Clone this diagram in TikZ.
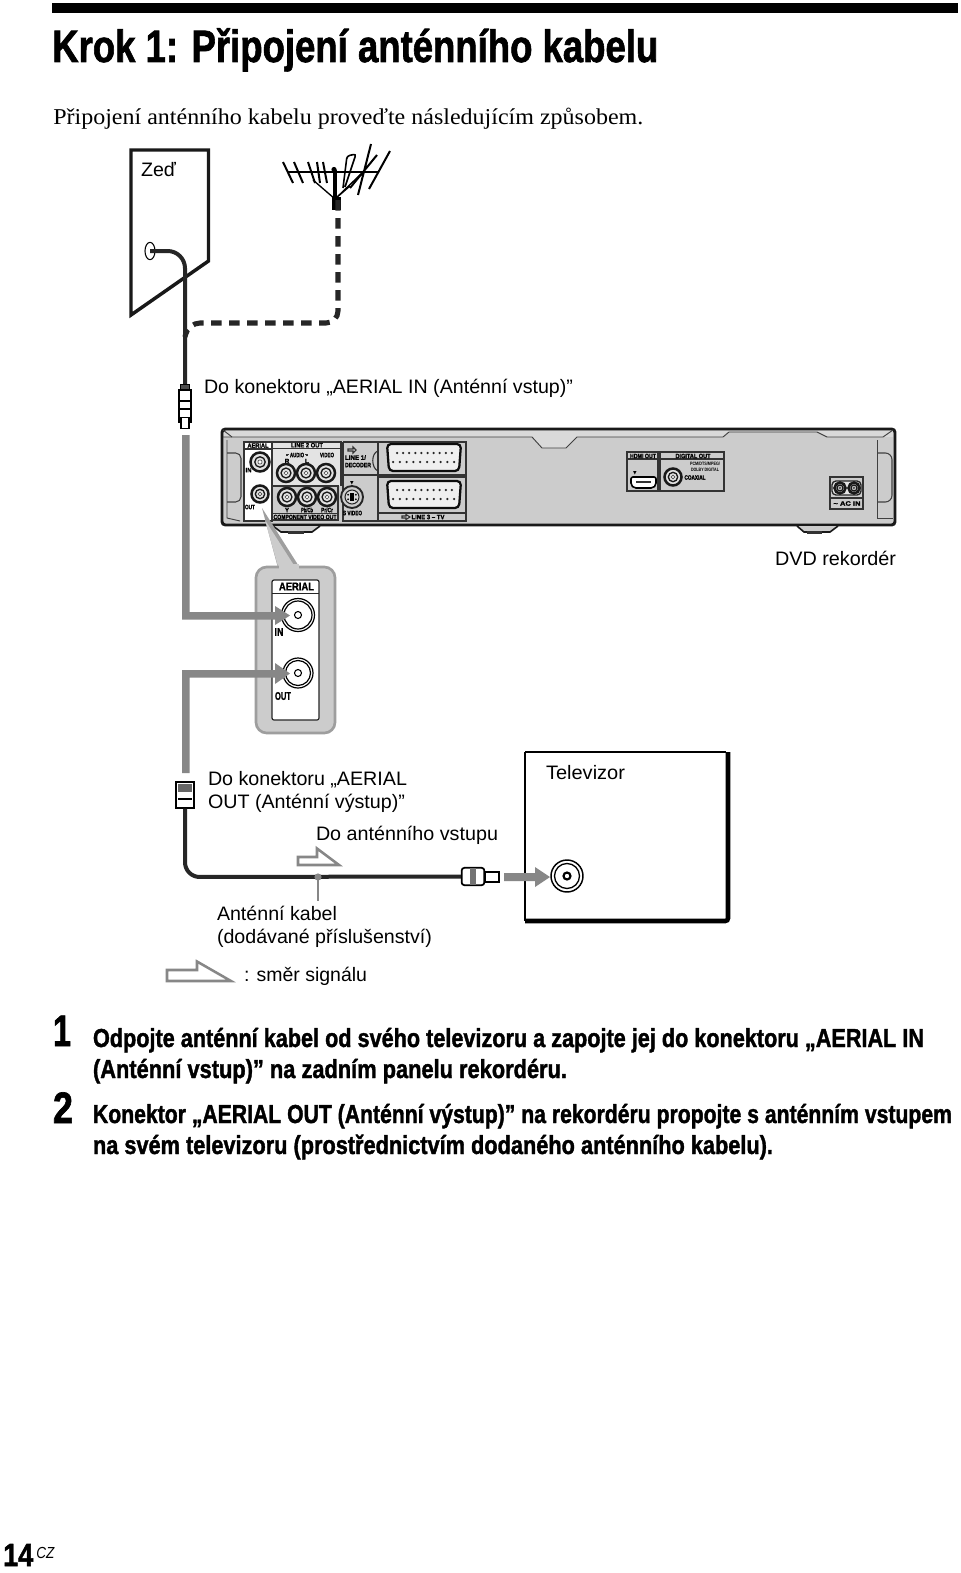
\documentclass[tikz,border=0pt]{standalone}
\usepackage{graphicx}
\usepackage{fontspec}
\usetikzlibrary{shapes.geometric,calc}
\setmainfont{Liberation Sans}
\newfontfamily\serifface{Liberation Serif}
\newfontfamily\heavyface{Liberation Sans}[BoldFeatures={FakeBold=1.6}]
\newfontfamily\symface{DejaVu Sans}
\newsavebox\fitbox
% Sets text in the current font and stretches it horizontally to a given width (picture units).
\newcommand\fitx[2]{\sbox\fitbox{#2}\pgfmathsetmacro\fitratio{#1*0.75/\the\wd\fitbox}\scalebox{\fitratio}[1]{\usebox\fitbox}}
\newcommand\jack[3]{%
  \draw[fill=white!55!lightgray,line width=1.9pt,draw=black!90] (#1,#2) circle (#3);
  \draw[line width=1pt,draw=black!90] (#1,#2) circle (#3*0.55);
  \draw[fill=white,line width=0.5pt,draw=black!70] (#1,#2) circle (#3*0.22);}
\newcommand\scart[2]{%
  \draw[fill=white!75!lightgray,line width=1.7pt,rounded corners=3pt,draw=black!95]
    (387,#1) -- (461,#1) -- (459,#2) -- (389,#2) -- cycle;
  \foreach \k in {0,...,9}{
    \fill[black!85] ({397+\k*6.1},#1+9) circle (1.25);
    \fill[black!85] ({393+\k*6.8},#1+18) circle (1.25);}}
\definecolor{bodygrey}{gray}{0.80}
\definecolor{pointer}{gray}{0.53}
\definecolor{calloutedge}{gray}{0.62}
\tikzset{
  txt/.style={anchor=base west,inner sep=0pt,outer sep=0pt,font=\fontsize{14.6}{15}\selectfont},
  stepline/.style={anchor=base west,inner sep=0pt,outer sep=0pt,font=\fontsize{19.5}{20}\selectfont\heavyface\bfseries},
  numeral/.style={anchor=base west,inner sep=0pt,outer sep=0pt,font=\fontsize{33}{33}\selectfont\heavyface\bfseries},
  pl/.style={inner sep=0pt,outer sep=0pt,text=black,font=\fontsize{4.8}{5}\selectfont\heavyface\bfseries},
  inlab/.style={inner sep=0pt,outer sep=0pt,font=\fontsize{8.4}{8}\selectfont\heavyface\bfseries},
  wallline/.style={line width=2.6pt,line join=miter,draw=black!90},
  cable/.style={line width=3pt,draw=black!85,rounded corners=11pt},
  signal/.style={draw=none,fill=pointer},
  hollow/.style={draw=pointer,line width=1.9pt,fill=white,line join=miter},
  thinpanel/.style={draw=black!80,line width=0.8pt},
  plug/.style={draw=black,line width=1.1pt,fill=white}
}
\begin{document}
\begin{tikzpicture}[x=0.75pt,y=-0.75pt]
\useasboundingbox (0,0) rectangle (960,1573);
\fill[white] (0,0) rectangle (960,1573);

% Page head
\fill[black] (52,3) rectangle (958,13);
\node[anchor=base west,inner sep=0pt,font=\fontsize{34}{34}\selectfont\heavyface\bfseries] (title) at (52,62)
  {\fitx{606}{Krok 1: Připojení anténního kabelu}};
\node[anchor=base west,inner sep=0pt,font=\fontsize{17}{18}\selectfont\serifface] (intro) at (53,125)
  {\fitx{590}{Připojení anténního kabelu proveďte následujícím způsobem.}};

% Wall
\draw[wallline] (131,150) -- (208.5,150) -- (208.5,261) -- (131,315) -- cycle;
\node[txt] (zed) at (141,176) {\fitx{35}{Zeď}};
\node[draw=black,line width=0.8pt,ellipse,minimum width=7.5pt,minimum height=13pt,inner sep=0pt,fill=white] (hole) at (150,251) {};

% Antenna
\draw[line width=1.5pt] (287,172) -- (378,172);
\draw[line width=1.5pt]
  (283,162)--(293,183) (294,162)--(303,183) (308,162)--(315,183) (317,162)--(320,183) (323,162)--(327,183)
  (358,195)--(371,144) (369,189)--(390,151) (350,188)--(377,155);
\draw[line width=1pt] (335,199)--(313,180) (335,199)--(362,173) (335,199)--(350,186);
\draw[line width=1.2pt,rounded corners=2pt] (343,188)--(347,156)--(356,154)--(345,187);
\draw[line width=3pt] (335,170)--(335,198);
\fill[black] (334,169.5) circle (2.6);
\coordinate (mast) at (338,200);
\fill[black] (332,197) rectangle (341,210);

% Cables at the wall
\coordinate (wallplug) at (185,385);
\coordinate (dropjoin) at (185,337);
\draw[cable,rounded corners=13pt] (hole.center) -- (185,251) -- (wallplug);
\draw[line width=3.8pt,black!85,dash pattern=on 8pt off 5.5pt,rounded corners=9pt] (mast) -- (338,323) -- (188,323) -- (dropjoin);

% Plug above the grey pointer
\node[plug,minimum width=6.5pt,minimum height=7pt,inner sep=0pt,fill=black!70] (plugtop) at (185,389) {};
\node[plug,minimum width=9pt,minimum height=24pt,inner sep=0pt] (plugbody) at (185,406) {};
\draw[black,line width=1pt] (plugbody.west|-0,401) -- (plugbody.east|-0,401) (plugbody.west|-0,409) -- (plugbody.east|-0,409);
\node[plug,minimum width=6pt,minimum height=8pt,inner sep=0pt] (plugpin) at (185,423) {};

% Recorder rear panel
\draw[line width=2.2pt,draw=black!90,fill=bodygrey,rounded corners=2.5pt] (222,429) -- (895,429) -- (895,525) -- (222,525) -- cycle;
\fill[gray!30!white] (224,431) rectangle (893,437);
\fill[bodygrey] (532,437) -- (542,448) -- (566,448) -- (577,437) -- cycle;
\fill[gray!30!white] (532,437) -- (542,448) -- (566,448) -- (577,437) -- cycle;
\fill[bodygrey] (723,437) -- (729,432) -- (817,432) -- (827,437) -- cycle;
\draw[line width=0.7pt,black!75] (223,437) -- (532,437) -- (542,448) -- (566,448) -- (577,437) -- (723,437) -- (729,432) -- (817,432) -- (827,437) -- (883,437) -- (893,430);
\draw[line width=0.7pt,black!75] (223,430) -- (232,437);
\draw[line width=0.8pt,black!75,fill=bodygrey,rounded corners=4pt] (227,453) -- (241,453) -- (241,502) -- (227,502);
\draw[line width=0.8pt,black!75,rounded corners=5pt] (877,453) -- (892,453) -- (892,502) -- (877,502);
\draw[line width=0.7pt,black!75] (877,440) -- (877,518) -- (893,518);
\draw[line width=0.7pt,black!75] (227,440) -- (227,518) -- (240,521);
\draw[black!90,fill=bodygrey,line width=1.2pt] (273,526) -- (281,532) -- (312,532) -- (320,526);
\fill[black!80] (288,531) rectangle (304,534);
\draw[black!90,fill=bodygrey,line width=1.2pt] (797,526) -- (804,532) -- (830,532) -- (838,526);
\fill[black!80] (807,531) rectangle (822,534);

% Left connector group
\fill[white] (244,442) rectangle (272,521);
\draw[thinpanel] (244,442) rectangle (272,521);
\draw[thinpanel] (244,449) -- (272,449);
\node[pl] (pAerial) at (258,445.5) {\fitx{21}{AERIAL}};
\node[pl] (pIn) at (248.5,470) {\fitx{6}{IN}};
\node[pl] (pOut) at (250,507) {\fitx{10}{OUT}};
\jack{260}{462}{9.5}
\jack{260}{494}{8.5}

\fill[gray!22!white] (272,442) rectangle (341,486);
\draw[thinpanel] (272,442) rectangle (341,448.5);
\draw[thinpanel] (272,448.5) -- (272,486) (341,448.5) -- (341,486);
\node[pl] (pLine2) at (307,445.2) {\fitx{32}{LINE 2 OUT}};
\node[pl] (pAudio) at (297,455) {\fitx{14}{AUDIO}};
\draw[thinpanel] (287,456) -- (287,454.5) -- (289,454.5) (307,456) -- (307,454.5) -- (305,454.5);
\node[pl] (pR) at (287,461) {R};
\node[pl] (pL) at (307,461) {L};
\node[pl] (pVideo) at (327,455) {\fitx{14}{VIDEO}};
\jack{286}{473}{9}
\jack{306}{473}{9}
\jack{326}{473}{9}
\draw[thinpanel] (272,486) -- (338,486) -- (338,520) -- (272,520) -- cycle (272,513.5) -- (338,513.5);
\jack{287}{497}{9}
\jack{307}{497}{9}
\jack{327}{497}{9}
\node[pl] (pY) at (287,510) {Y};
\node[pl] (pPb) at (307,510) {\fitx{12}{Pb/Cb}};
\node[pl] (pPr) at (327,510) {\fitx{12}{Pr/Cr}};
\node[pl] (pComp) at (305,517) {\fitx{63}{COMPONENT VIDEO OUT}};

\draw[thinpanel] (343,442) -- (343,475) -- (466,475) -- (466,442) -- (343,442) (378,442) -- (378,475);
\draw[thinpanel] (378,451) .. controls (371,453) and (371,468) .. (378,471);
\node[pl] (pLine1) at (355.5,457.5) {\fitx{21}{LINE 1/}};
\node[pl] (pDec) at (358,465) {\fitx{26}{DECODER}};
\draw[thinpanel] (348,449) -- (353,449) -- (353,447) -- (356,450) -- (353,453) -- (353,451) -- (348,451) -- cycle;
\scart{444}{471}

\draw[thinpanel] (378,477) -- (466,477) -- (466,521) -- (378,521) -- cycle (378,513) -- (466,513);
\scart{481}{508}
\node[pl] (pLine3) at (428,517) {\fitx{33}{LINE 3 – TV}};
\draw[thinpanel] (402,516) -- (406,516) -- (406,514.5) -- (410,517) -- (406,519.5) -- (406,518) -- (402,518) -- cycle;
\draw[thinpanel] (343,476) -- (343,521) -- (377,521);
\draw[fill=bodygrey,line width=1.4pt,draw=black!85] (352,497) circle (11);
\draw[fill=white!70!gray,line width=0.8pt,draw=black!85] (352,497) circle (7);
\foreach \a in {30,150,210,330}{\fill[black] ($(352,497)+(\a:3.4pt)$) circle (1);}
\fill[black] (350,493) rectangle (354,501);
\node[pl] (pSv) at (352.5,513) {\fitx{19}{S VIDEO}};
\node[pl,font=\fontsize{3.5}{4}\selectfont\symface] (pTri1) at (352,483) {▼};

% Right connector groups
\draw[thinpanel] (627,452) rectangle (658,491) (627,459) -- (658,459);
\node[pl] (pHdmi) at (643,456) {\fitx{26}{HDMI OUT}};
\node[pl,font=\fontsize{3.5}{4}\selectfont\symface] (pTri2) at (635,473) {▼};
\draw[line width=1.2pt,fill=white,rounded corners=1.5pt] (631,477) -- (656,477) -- (656,485) -- (653,488) -- (634,488) -- (631,485) -- cycle;
\fill[black!80] (636,481) rectangle (651,483);
\draw[thinpanel] (660,452) rectangle (724,491) (660,459) -- (724,459);
\node[pl] (pDig) at (693,456) {\fitx{35}{DIGITAL OUT}};
\node[pl,font=\fontsize{3.6}{4}\selectfont\bfseries] (pPcm) at (705,464) {\fitx{30}{PCM/DTS/MPEG/}};
\node[pl,font=\fontsize{3.6}{4}\selectfont\bfseries] (pDolby) at (705,470) {\fitx{28}{DOLBY DIGITAL}};
\node[pl] (pCoax) at (695,477.5) {\fitx{21}{COAXIAL}};
\jack{673}{477}{8.5}
\draw[thinpanel] (830,477) rectangle (863,509) (830,498) -- (863,498);
\draw[line width=1pt,draw=black!85,fill=white!80!gray,rounded corners=3pt] (832,481) rectangle (861,495);
\jack{840}{488}{5.5}
\jack{854}{488}{5.5}
\node[pl] (pAc) at (847,503.5) {\fitx{27}{\textasciitilde{} AC IN}};

% Enlarged view of the aerial sockets
\fill[calloutedge] (262,508) -- (278,568) -- (300,568) -- cycle;
\fill[bodygrey] (265,520) -- (279,570) -- (297,570) -- cycle;
\draw[calloutedge,line width=2pt,fill=bodygrey,rounded corners=8pt] (256,567) rectangle (335,733);
\fill[bodygrey] (279,564) -- (299,564) -- (299,570) -- (279,570) -- cycle;
\draw[black!85,line width=0.9pt,fill=white,rounded corners=1.5pt] (272,580) rectangle (319,720);
\draw[black!85,line width=0.7pt] (272,593.5) -- (319,593.5);
\node[inlab] (iAerial) at (296.5,586.5) {\fitx{35}{AERIAL}};
\node[inlab] (iIn) at (279,632) {\fitx{9}{IN}};
\node[inlab] (iOut) at (283,696) {\fitx{16}{OUT}};
\draw[line width=0.9pt,fill=white] (298,615) circle (16.5);
\draw[line width=0.9pt] (298,615) circle (14);
\draw[line width=0.8pt] (298,615) circle (3.5);
\draw[line width=0.9pt,fill=white] (298,673) circle (15);
\draw[line width=0.9pt] (298,673) circle (12.5);
\draw[line width=0.8pt] (298,673) circle (3.5);

% Signal pointers
\fill[signal] (182,435) -- (189.5,435) -- (189.5,612) -- (275,612) -- (275,606) -- (290,615.5) -- (275,625) -- (275,619.5) -- (182,619.5) -- cycle;
\fill[signal] (182,773) -- (182,670) -- (275,670) -- (275,663) -- (290,673.5) -- (275,684) -- (275,677.5) -- (189.5,677.5) -- (189.5,773) -- cycle;

% Television
\draw[black,line width=2pt] (525,752) -- (726,752);
\draw[black,line width=2.2pt] (525,752) -- (525,921);
\draw[black,line width=3.4pt,rounded corners=2pt] (728,752) -- (728,921) -- (525,921);
\node[txt] (tv) at (546,779) {\fitx{79}{Televizor}};
\node[draw=black,line width=1.1pt,circle,minimum size=24pt,fill=white,inner sep=0pt] (tvjack) at (567,876) {};
\draw[line width=1pt] (tvjack.center) circle (12.5);
\draw[line width=1.6pt] (tvjack.center) circle (3.5);

% Cable from recorder to television
\node[draw=black,line width=1.3pt,fill=white,minimum width=13pt,minimum height=19pt,inner sep=0pt] (outplug) at (185,795) {};
\fill[black!60] (178,784) rectangle (192,792);
\draw[line width=1pt] (178,799) -- (192,799);
\node[draw=black,line width=1.3pt,fill=white,rounded corners=2pt,minimum width=17pt,minimum height=13pt,inner sep=0pt] (tvplugbody) at (473,876.5) {};
\node[draw=black,line width=1.3pt,fill=white,minimum width=10pt,minimum height=8pt,inner sep=0pt] (tvplugpin) at (492,877) {};
\fill[black!55] (470,868) rectangle (476,885);
\draw[cable] (outplug.south) -- (185,877) -- (tvplugbody.west);
\fill[signal] (504,873) -- (535,873) -- (535,867) -- (550,877) -- (535,887) -- (535,881) -- (504,881) -- cycle;

% Cable caption with leader
\coordinate (leaderend) at (318,901);
\fill[pointer] (318,877) circle (3.6);
\coordinate (leaderdot) at (318,877);
\draw[pointer,line width=2pt] (leaderdot) -- (leaderend);

% Texts near the connectors
\node[txt] (t1) at (204,393) {\fitx{369}{Do konektoru „AERIAL IN (Anténní vstup)”}};
\node[txt] (t2) at (775,565) {\fitx{121}{DVD rekordér}};
\node[txt] (t3) at (208,785) {\fitx{199}{Do konektoru „AERIAL}};
\node[txt] (t4) at (208,808) {\fitx{197}{OUT (Anténní výstup)”}};
\node[txt] (t5) at (316,840) {\fitx{182}{Do anténního vstupu}};
\node[txt] (t6) at (217,920) {\fitx{120}{Anténní kabel}};
\node[txt] (t7) at (217,943) {\fitx{215}{(dodávané příslušenství)}};
\node[txt] (t8) at (244,981) {\fitx{123}{: směr signálu}};

% Hollow signal direction marks
\draw[hollow] (298,857) -- (317,857) -- (317,848.5) -- (339,865) -- (298,865) -- cycle;
\draw[hollow] (167,970) -- (197,970) -- (197,961.5) -- (231,981) -- (167,981) -- cycle;

% Steps
\node[numeral] (n1) at (53,1046) {\fitx{18}{1}};
\node[numeral] (n2) at (53,1123) {\fitx{20}{2}};
\node[stepline] (s1) at (93,1047) {\fitx{831}{Odpojte anténní kabel od svého televizoru a zapojte jej do konektoru „AERIAL IN}};
\node[stepline] (s2) at (93,1078) {\fitx{474}{(Anténní vstup)” na zadním panelu rekordéru.}};
\node[stepline] (s3) at (93,1123) {\fitx{859}{Konektor „AERIAL OUT (Anténní výstup)” na rekordéru propojte s anténním vstupem}};
\node[stepline] (s4) at (93,1154) {\fitx{680}{na svém televizoru (prostřednictvím dodaného anténního kabelu).}};

% Page number
\node[anchor=base west,inner sep=0pt,font=\fontsize{24}{24}\selectfont\heavyface\bfseries] (page) at (3,1566) {\fitx{30}{14}};
\node[anchor=base west,inner sep=0pt,font=\fontsize{12}{12}\selectfont\itshape] (lang) at (36,1558) {\fitx{18}{CZ}};
\end{tikzpicture}
\end{document}
